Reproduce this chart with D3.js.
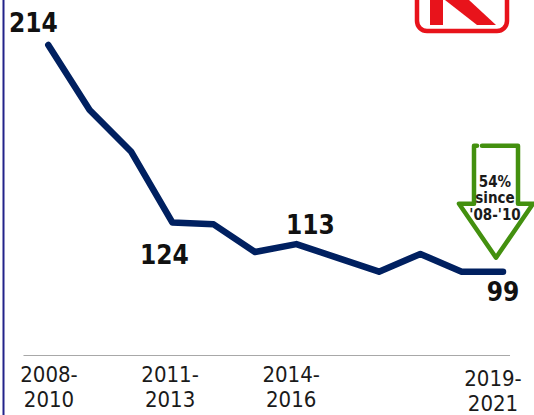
<!DOCTYPE html>
<html>
<head>
<meta charset="utf-8">
<script src="https://cdn.jsdelivr.net/npm/d3@7"></script>
<style>
  html, body { margin: 0; padding: 0; background: #fff; }
  svg { display: block; font-family: "DejaVu Sans Condensed", "DejaVu Sans", sans-serif; font-stretch: condensed; }
</style>
</head>
<body>
<div id="chart"></div>
<script>
// chart data
const periods = [
  "2008-2010", "2009-2011", "2010-2012", "2011-2013", "2012-2014", "2013-2015",
  "2014-2016", "2015-2017", "2016-2018", "2017-2019", "2018-2020", "2019-2021"
];
const rates = [214, 181, 160, 124, 123, 109, 113, 106, 99, 108, 99, 99];
const tickPeriods = ["2008-2010", "2011-2013", "2014-2016", "2019-2021"];
const labelPeriods = ["2008-2010", "2011-2013", "2014-2016", "2019-2021"];
const arrowLines = ["54%", "since", "'08-'10"];

// layout
const WIDTH = 534;
const HEIGHT = 415;
const NAVY = "#002060";
const GREEN = "#43900f";
const RED = "#e8131b";

// label offsets from their point (dx, dy of baseline)
const labelOffset = {
  "2008-2010": [-15, -13],
  "2011-2013": [-8, 42],
  "2014-2016": [14, -10],
  "2019-2021": [0, 29]
};

const data = periods.map((p, i) => ({ period: p, value: rates[i] }));

const svg = d3.select("#chart").append("svg")
  .attr("width", WIDTH)
  .attr("height", HEIGHT)
  .attr("viewBox", `0 0 ${WIDTH} ${HEIGHT}`);

// scales
const x = d3.scalePoint().domain(periods).range([48.3, 503]);
const xLabel = d3.scalePoint().domain(periods).range([48.5, 492.5]);
const y = d3.scaleLinear().domain([0, 214]).range([466.8, 45]);

// left frame line
svg.append("rect")
  .attr("x", 2.5).attr("y", 0)
  .attr("width", 2).attr("height", HEIGHT)
  .attr("fill", "#23238a");

// logo (top right, cut off)
const logo = svg.append("g");
logo.append("rect")
  .attr("x", 417).attr("y", -30)
  .attr("width", 90).attr("height", 61)
  .attr("rx", 10)
  .attr("fill", "#fff")
  .attr("stroke", RED)
  .attr("stroke-width", 4.5);
logo.append("rect")
  .attr("x", 430).attr("y", -5)
  .attr("width", 13).attr("height", 30)
  .attr("fill", RED);
logo.append("path")
  .attr("d", "M445,0 L469,0 L496,25 L477,25 Z")
  .attr("fill", RED);

// x axis
const step = x.step();
svg.append("line")
  .attr("x1", x(periods[0]) - 0.6 * step)
  .attr("x2", x(periods[periods.length - 1]) + 0.17 * step)
  .attr("y1", 355.5).attr("y2", 355.5)
  .attr("stroke", "#a8a8a8")
  .attr("stroke-width", 1);

const axis = d3.axisBottom(xLabel).tickValues(tickPeriods).tickSize(0).tickPadding(0);
const axisG = svg.append("g")
  .attr("transform", "translate(0,382)")
  .call(axis)
  .attr("font-family", null)
  .attr("font-size", null);
axisG.select(".domain").remove();
axisG.selectAll(".tick text").each(function (d, i) {
  const t = d3.select(this);
  const parts = d.split("-");
  const shift = i === tickPeriods.length - 1 ? 4 : 0;
  t.text(null)
    .attr("y", shift)
    .attr("dy", 0)
    .attr("fill", "#1a1a1a")
    .attr("font-size", 22);
  t.append("tspan").attr("x", 0).attr("dy", 0).text(parts[0] + "-");
  t.append("tspan").attr("x", 0).attr("dy", 25).text(parts[1]);
});

// line
const line = d3.line()
  .x((d) => x(d.period))
  .y((d) => y(d.value));

svg.append("path")
  .datum(data)
  .attr("fill", "none")
  .attr("stroke", NAVY)
  .attr("stroke-width", 6.5)
  .attr("stroke-linejoin", "round")
  .attr("stroke-linecap", "round")
  .attr("d", line);

// value labels
svg.append("g")
  .selectAll("text")
  .data(data.filter((d) => labelPeriods.includes(d.period)))
  .join("text")
  .attr("x", (d) => x(d.period) + labelOffset[d.period][0])
  .attr("y", (d) => y(d.value) + labelOffset[d.period][1])
  .attr("text-anchor", "middle")
  .attr("font-size", 26)
  .attr("font-weight", "bold")
  .attr("fill", "#111")
  .text((d) => d.value);

// down arrow annotation, tip placed above last point
const last = data[data.length - 1];
const tipX = x(last.period) - 7;
const tipY = y(last.value) - 14;
const arrow = svg.append("g").attr("transform", `translate(${tipX},${tipY})`);
arrow.append("path")
  .attr("d", "M-14,-112 L22,-112 L22,-54 L37,-54 L0,0 L-37,-54 L-22,-54 L-22,-112 L-19,-112")
  .attr("fill", "#fff")
  .attr("stroke", GREEN)
  .attr("stroke-width", 4.5)
  .attr("stroke-linejoin", "round")
  .attr("stroke-linecap", "round");
arrow.append("text")
  .attr("text-anchor", "middle")
  .attr("font-size", 15)
  .attr("font-weight", "bold")
  .attr("fill", "#1a1a1a")
  .selectAll("tspan")
  .data(arrowLines)
  .join("tspan")
  .attr("x", -1)
  .attr("y", (d, i) => -71 + i * 16.5)
  .text((d) => d);
</script>
</body>
</html>
